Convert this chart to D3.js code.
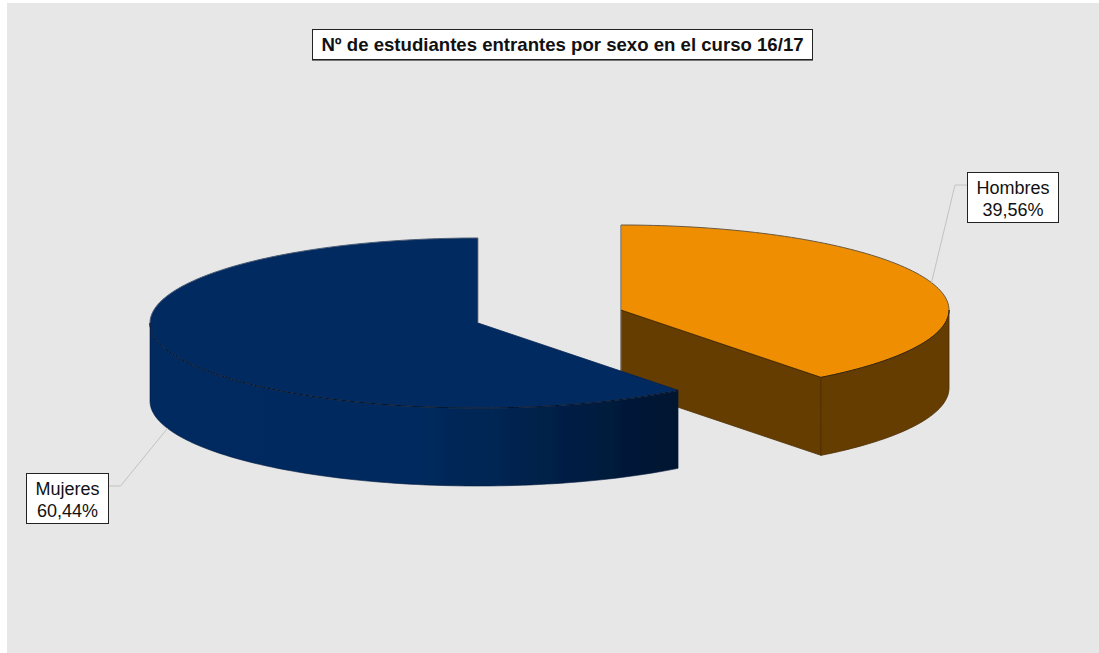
<!DOCTYPE html>
<html>
<head>
<meta charset="utf-8">
<script src="https://cdn.jsdelivr.net/npm/d3@7/dist/d3.min.js"></script>
<style>
html,body{margin:0;padding:0;background:#fff;overflow:hidden}
svg{display:block}
text{font-family:"Liberation Sans",Arial,sans-serif;fill:#111}
</style>
</head>
<body>
<svg id="c" width="1099" height="653"></svg>
<script>
const categories = ["Hombres", "Mujeres"];
const seriesValues = [39.56, 60.44];
const valueLabels = ["39,56%", "60,44%"];
const chartTitle = "Nº de estudiantes entrantes por sexo en el curso 16/17";

const W = 1099, H = 653;
const svg = d3.select("#c");
const RX = 328, RY = 85, DEPTH = 78;
const centres = [{x: 621, y: 310}, {x: 478, y: 323}];
const topFill = ["#ee8e00", "#002a60"];
const edge = ["#4a2c00", "#001a3c"];
const labelBoxes = [
  {x: 967, y: 172, w: 92, h: 51, elbowX: 955, elbowY: 185, anchor: "left"},
  {x: 26, y: 473, w: 83, h: 51, elbowX: 120.5, elbowY: 486, anchor: "right"}
];

const defs = svg.append("defs");
defs.append("filter").attr("id", "soft").attr("x", "-5%").attr("y", "-5%").attr("width", "110%").attr("height", "110%")
  .append("feGaussianBlur").attr("stdDeviation", 0.45);
const grad = defs.append("linearGradient").attr("id", "wallM")
  .attr("gradientUnits", "userSpaceOnUse").attr("x1", 150).attr("x2", 680).attr("y1", 0).attr("y2", 0);
[[0, "#002a60"], [0.5, "#002a5e"], [0.68, "#002450"], [0.85, "#001b3e"], [1, "#00142e"]]
  .forEach(s => grad.append("stop").attr("offset", s[0]).attr("stop-color", s[1]));

svg.append("rect").attr("x", 7).attr("y", 3).attr("width", W - 7).attr("height", H - 3).attr("fill", "#e7e7e7");

const pie = d3.pie().sort(null).value(d => d)(seriesValues);

function scales(i) {
  const c = centres[i];
  return {
    x: d3.scaleLinear().domain([-1, 1]).range([c.x - RX, c.x + RX]),
    y: d3.scaleLinear().domain([-1, 1]).range([c.y - RY, c.y + RY])
  };
}
function rim(i, a0, a1, dz = 0) {
  const s = scales(i), n = Math.max(2, Math.ceil(Math.abs(a1 - a0) * 40));
  return d3.range(n + 1).map(k => {
    const a = a0 + (a1 - a0) * k / n;
    return [s.x(Math.sin(a)), s.y(-Math.cos(a)) + dz];
  });
}
const line = d3.line();
const closed = pts => line(pts) + "Z";
const pi = Math.PI;

const pieG = svg.append("g").attr("filter", "url(#soft)");

/* Hombres (index 0) is behind, Mujeres (index 1) in front */
pie.forEach((d, i) => {
  const c = centres[i];
  const g = pieG.append("g");
  const a0 = d.startAngle, a1 = d.endAngle;
  const center = [c.x, c.y];
  if (i === 0) {
    const end = rim(i, a1, a1)[0];
    const start = rim(i, a0, a0)[0];
    g.append("path")
      .attr("d", closed([center, end, [end[0], end[1] + DEPTH], [c.x, c.y + DEPTH]]))
      .attr("fill", "#663c00").attr("stroke", edge[i]).attr("stroke-width", 0.8);
    const outer = rim(i, pi / 2, a1);
    g.append("path")
      .attr("d", closed(outer.concat(outer.map(p => [p[0], p[1] + DEPTH]).reverse())))
      .attr("fill", "#663c00").attr("stroke", edge[i]).attr("stroke-width", 0.8);
    g.append("path").attr("d", line([start, [c.x, c.y + DEPTH]]))
      .attr("fill", "none").attr("stroke", "#777").attr("stroke-width", 1);
  } else {
    const outer = rim(i, a0, 3 * pi / 2);
    g.append("path")
      .attr("d", closed(outer.concat(outer.map(p => [p[0], p[1] + DEPTH]).reverse())))
      .attr("fill", "url(#wallM)").attr("stroke", edge[i]).attr("stroke-width", 0.6);
  }
  const top = rim(i, a0, a1);
  g.append("path").attr("d", closed([center].concat(top)))
    .attr("fill", topFill[i]).attr("stroke", "none");
  /* back rim grey, front rim dark */
  g.append("path").attr("d", line(rim(i, a0, a1)))
    .attr("fill", "none").attr("stroke", i === 0 ? "#6a5840" : "#4c5c74").attr("stroke-width", 1);
  const f0 = Math.max(a0, pi / 2), f1 = Math.min(a1, 3 * pi / 2);
  g.append("path").attr("d", line(rim(i, f0, f1)))
    .attr("fill", "none").attr("stroke", i === 0 ? "#3a2200" : "#00122c").attr("stroke-width", 1);
  const dark = i === 0 ? a1 : a0, grey = i === 0 ? a0 : a1;
  g.append("path").attr("d", line([center, rim(i, dark, dark)[0]]))
    .attr("fill", "none").attr("stroke", i === 0 ? "#3a2200" : "#002252").attr("stroke-width", 0.8);
  g.append("path").attr("d", line([center, rim(i, grey, grey)[0]]))
    .attr("fill", "none").attr("stroke", "#777").attr("stroke-width", 0.8);
});

pie.forEach((d, i) => {
  const mid = (d.startAngle + d.endAngle) / 2;
  const p = rim(i, mid, mid, i === 1 ? DEPTH : 0)[0];
  const b = labelBoxes[i];
  const bx = b.anchor === "left" ? b.x : b.x + b.w;
  svg.append("path")
    .attr("d", line([p, [b.elbowX, b.elbowY], [bx, b.elbowY]]))
    .attr("fill", "none").attr("stroke", "#c2c2c2").attr("stroke-width", 1);
  const g = svg.append("g");
  g.append("rect").attr("x", b.x + 0.5).attr("y", b.y + 0.5).attr("width", b.w - 1).attr("height", b.h - 1)
    .attr("fill", "#fff").attr("stroke", "#222").attr("stroke-width", 1);
  g.append("text").attr("x", b.x + b.w / 2).attr("y", b.y + 21.5).attr("text-anchor", "middle")
    .attr("font-size", 18).text(categories[i]);
  g.append("text").attr("x", b.x + b.w / 2).attr("y", b.y + 44).attr("text-anchor", "middle")
    .attr("font-size", 18).text(valueLabels[i]);
});

svg.append("rect").attr("x", 312.5).attr("y", 29.5).attr("width", 500).attr("height", 30)
  .attr("fill", "#fff").attr("stroke", "#222").attr("stroke-width", 1);
svg.append("path").attr("d", "M312,60.5H813").attr("stroke", "#777").attr("fill", "none");
svg.append("text").attr("x", 562.5).attr("y", 51).attr("text-anchor", "middle")
  .attr("font-size", 18.6).attr("font-weight", "bold").text(chartTitle);
</script>
</body>
</html>
